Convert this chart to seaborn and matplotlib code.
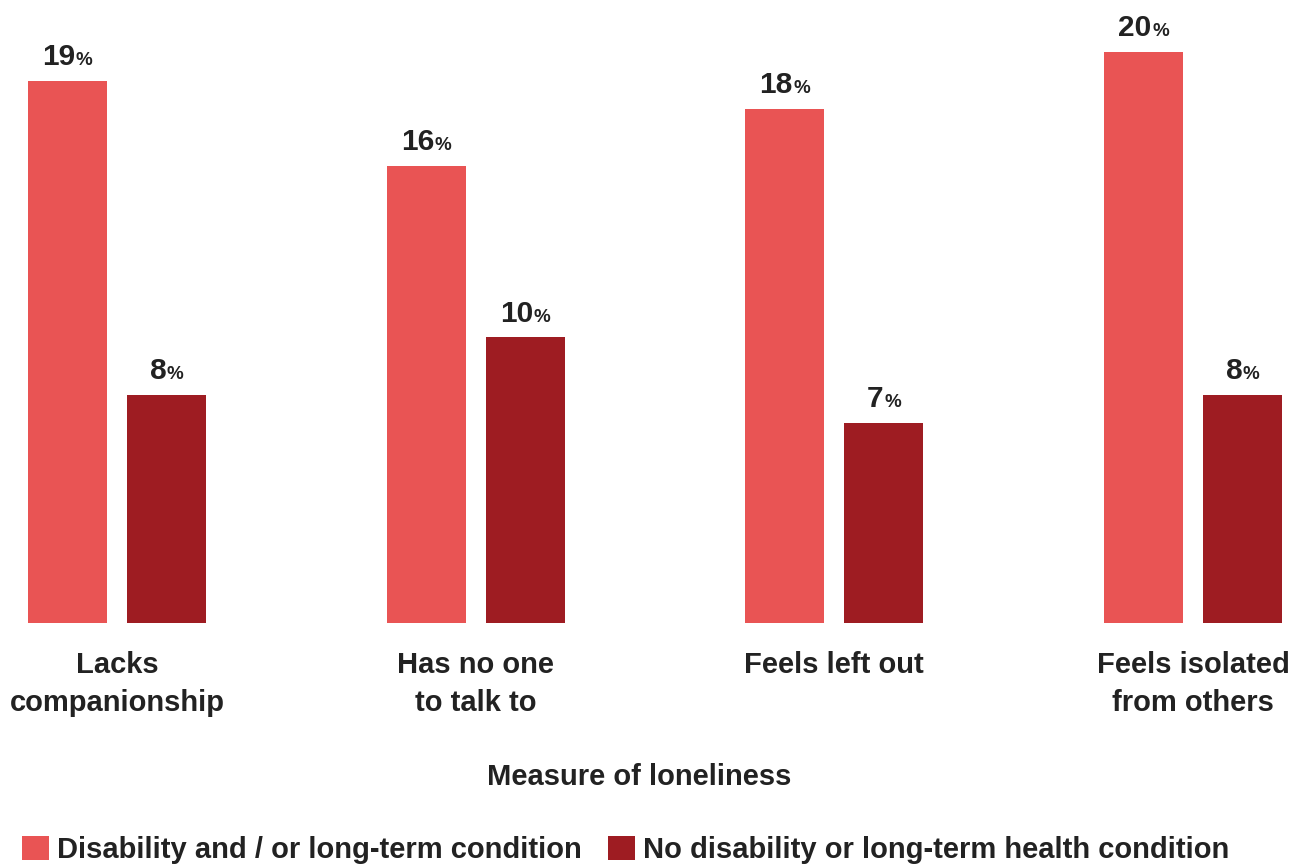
import matplotlib
matplotlib.use("Agg")
import matplotlib.pyplot as plt
import seaborn as sns
import pandas as pd

categories = ["Lacks\ncompanionship", "Has no one\nto talk to", "Feels left out", "Feels isolated\nfrom others"]
series_names = ["Disability and / or long-term condition", "No disability or long-term health condition"]
disabled = [19, 16, 18, 20]
not_disabled = [8, 10, 7, 8]
colors = ["#E95454", "#9E1C22"]
TXT = "#222222"

df = pd.DataFrame({
    "category": categories * 2,
    "group": [series_names[0]] * 4 + [series_names[1]] * 4,
    "value": disabled + not_disabled,
})

sns.set_style("white")
plt.rcParams["font.family"] = ["Liberation Sans", "DejaVu Sans"]
plt.rcParams["font.weight"] = "bold"

DPI = 100
fig = plt.figure(figsize=(13.03, 8.64), dpi=DPI)
ax = fig.add_axes([0, (864 - 623) / 864, 1, 623 / 864])

sns.barplot(data=df, x="category", y="value", hue="group", order=categories,
            hue_order=series_names, palette=colors, width=0.552, gap=0.202,
            saturation=1, ax=ax, linewidth=0)

ax.set_xlim(-117 / 358.67, (1303 - 117) / 358.67)
ax.set_ylim(0, 623 / 28.55)
sns.despine(ax=ax, left=True, bottom=True)
ax.set_yticks([])
ax.set_ylabel("")
ax.tick_params(axis="x", length=0, pad=20, labelsize=21, labelcolor=TXT)
for lbl in ax.get_xticklabels():
    lbl.set_fontweight("bold")
    lbl.set_linespacing(1.45)

ax.set_xlabel("Measure of loneliness", fontsize=21, fontweight="bold", color=TXT)
ax.xaxis.set_label_coords(639 / 1303, -(777 - 623) / 623)
ax.xaxis.label.set_va("center")

# value labels
fig.canvas.draw()
renderer = fig.canvas.get_renderer()
vals = [disabled, not_disabled]
for ci, cont in enumerate(ax.containers):
    for bar, v in zip(cont.patches, vals[ci]):
        xc = bar.get_x() + bar.get_width() / 2
        top = bar.get_height()
        t1 = ax.annotate(f"{v}", xy=(xc, top), xytext=(0, 11.5), textcoords="offset points",
                         ha="left", va="baseline", fontsize=21.5, fontweight="bold", color=TXT)
        t2 = ax.annotate("%", xy=(xc, top), xytext=(0, 11.5), textcoords="offset points",
                         ha="left", va="baseline", fontsize=13.5, fontweight="bold", color=TXT)
        w1 = t1.get_window_extent(renderer).width
        w2 = t2.get_window_extent(renderer).width
        gap = 0.5
        total = w1 + w2 + gap
        k = 72 / DPI
        t1.set_position((-total / 2 * k, 11.5))
        t2.set_position(((-total / 2 + w1 + gap) * k, 11.5))

# legend
sns.move_legend(ax, "center", bbox_to_anchor=(626 / 1303, (864 - 850) / 864), bbox_transform=fig.transFigure,
                ncol=2, frameon=False, title=None, fontsize=21,
                handlelength=0.9, handleheight=0.9, handletextpad=0.3, columnspacing=0.9)
leg = ax.get_legend()
for t in leg.get_texts():
    t.set_color(TXT)
    t.set_fontweight("bold")

fig.savefig("out.png", dpi=DPI)
